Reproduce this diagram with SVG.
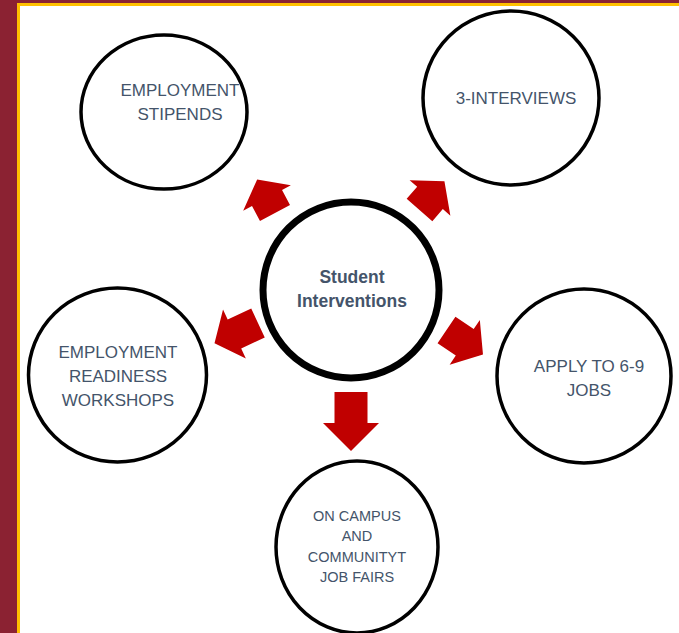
<svg xmlns="http://www.w3.org/2000/svg" width="679" height="633" viewBox="0 0 679 633">
<style>
.ring{fill:#fff;stroke:#000;stroke-width:3.5}
.hub{fill:#fff;stroke:#000;stroke-width:7}
.lbl{font-family:"Liberation Sans",Arial,sans-serif;font-size:17px;fill:#44546A;text-anchor:middle}
.sm{font-size:14.5px}
.bold{font-weight:bold;font-size:17.5px}
.arr{fill:#C00000}
</style>
<rect x="0" y="0" width="679" height="633" fill="#8B2232"/>
<rect x="17" y="3" width="662" height="630" fill="#FFC000"/>
<rect x="20" y="6" width="659" height="627" fill="#fff"/>
<g id="connectors">
<polygon class="arr" transform="translate(275,213) rotate(-118)" points="0,-17 17,-17 17,-27 38,0 17,27 17,17 0,17"/>
<polygon class="arr" transform="translate(419.5,210) rotate(-49)" points="0,-17 16,-17 16,-27 38,0 16,27 16,17 0,17"/>
<polygon class="arr" transform="translate(258,323) rotate(155)" points="0,-16 26,-16 26,-27 48,0 26,27 26,16 0,16"/>
<polygon class="arr" transform="translate(446.5,330) rotate(34)" points="0,-16 22,-16 22,-27 44,0 22,27 22,16 0,16"/>
<polygon class="arr" transform="translate(351,392) rotate(90)" points="0,-16.5 31,-16.5 31,-28 59,0 31,28 31,16.5 0,16.5"/>
</g>
<g id="hub">
<circle class="hub" cx="351" cy="290" r="88"/>
<text class="lbl bold" x="352" y="283">Student</text>
<text class="lbl bold" x="352" y="307">Interventions</text>
</g>
<g id="stipends">
<ellipse class="ring" cx="164" cy="112" rx="83" ry="77"/>
<text class="lbl" x="180" y="96">EMPLOYMENT</text>
<text class="lbl" x="180" y="120">STIPENDS</text>
</g>
<g id="interviews">
<ellipse class="ring" cx="511" cy="98" rx="88" ry="87"/>
<text class="lbl" x="516" y="104">3-INTERVIEWS</text>
</g>
<g id="workshops">
<ellipse class="ring" cx="117.5" cy="375" rx="89" ry="87"/>
<text class="lbl" x="118" y="358">EMPLOYMENT</text>
<text class="lbl" x="118" y="382">READINESS</text>
<text class="lbl" x="118" y="406">WORKSHOPS</text>
</g>
<g id="apply">
<ellipse class="ring" cx="584" cy="376" rx="87" ry="87"/>
<text class="lbl" x="589" y="372">APPLY TO 6-9</text>
<text class="lbl" x="589" y="396">JOBS</text>
</g>
<g id="fairs">
<ellipse class="ring" cx="357" cy="547" rx="81" ry="86"/>
<text class="lbl sm" x="357" y="521">ON CAMPUS</text>
<text class="lbl sm" x="357" y="541">AND</text>
<text class="lbl sm" x="357" y="562">COMMUNITYT</text>
<text class="lbl sm" x="357" y="582">JOB FAIRS</text>
</g>
</svg>
